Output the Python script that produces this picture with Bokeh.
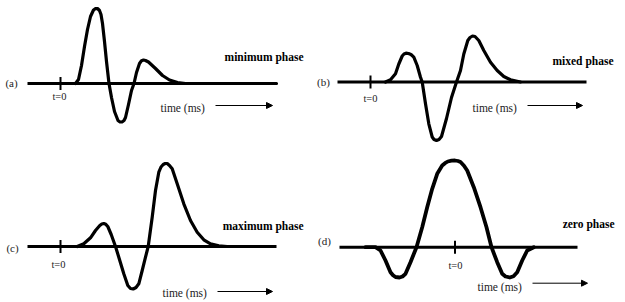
from bokeh.plotting import figure
from bokeh.models import Range1d, Arrow, NormalHead
from bokeh.core.properties import value
from bokeh.embed import file_html
from bokeh.resources import INLINE

# ---------------- data (time after t=0, amplitude above the zero line; arbitrary units) ----------
panel_labels = ["(a)", "(b)", "(c)", "(d)"]
phase_labels = ["minimum phase", "mixed phase", "maximum phase", "zero phase"]
t0_label = "t=0"
time_label = "time (ms)"

min_t = [15, 18, 21, 24, 27, 30, 33, 35, 37, 39, 40.5, 42, 44, 46, 48.5, 51, 54, 57.5, 59.5,
         61.5, 63.5, 65, 68, 71, 73.5, 76, 79, 81, 83, 85, 88, 95, 102, 109, 117, 125, 216]
min_amp = [0, 4, 18, 37, 54, 67, 73.5, 74.8, 75, 73, 69, 60, 42, 22, 0, -14, -28, -37, -38.5,
           -38.5, -37, -34, -21, -7, 0, 11, 20, 22.8, 23.5, 23, 21.5, 15, 8, 3.5, 1, 0, 0]

mix_t = [15, 20, 25, 28.3, 31.7, 33.5, 35.5, 38, 40.5, 43.3, 46.7, 50, 51.7, 55, 58.3, 61.7, 63.5,
         66, 68.5, 71, 76, 81, 86, 90, 93.3, 97.3, 99.5, 102, 104.5, 108.3, 113.3, 120, 126.7,
         133.3, 140, 150]
mix_amp = [0, 2.2, 8.2, 18, 26, 28, 28.8, 28.5, 27.5, 24.8, 16.5, 4.8, 0, -21.8, -41.8, -55,
           -57.5, -58.5, -57.5, -54.5, -36.5, -15.5, 0, 11.5, 28, 41.5, 44.5, 46, 45.5, 41.5, 31.5,
           19.8, 11.5, 5.5, 2.2, 0]

max_t = [16.7, 23.3, 30, 35, 39.3, 41.3, 43.3, 45.3, 47.3, 50.7, 55, 58.3, 63.3, 67.3, 70, 72.7,
         75.5, 78.3, 81.7, 85, 87.7, 91.7, 95, 98.3, 100.5, 102.7, 104.7, 106.7, 109, 111.7, 116.7,
         123.3, 130, 136.7, 143.3, 150, 158.3, 166.7]
max_amp = [0, 2.7, 8.7, 16, 21, 22.5, 23, 22.2, 20, 12, 0, -10.7, -27.3, -39, -42, -42.5, -41,
           -37.3, -24, -10.7, 0, 29.3, 56, 74.3, 79.5, 82, 83, 83, 81, 77.7, 62.7, 42.7, 26, 14.3,
           6.7, 2.7, 0.7, 0]

zero_t = [-89.5, -79.5, -74.5, -69.5, -64.5, -62, -59.5, -55.5, -52.5, -49.5, -44.5, -38.5,
          -32.8, -27.8, -22.8, -17.8, -12.8, -10, -7.2, -3.5, 0, 3, 5.5, 9, 12.2, 18.8, 25.5, 31.5,
          36.5, 42.2, 47.2, 50.5, 54.8, 58.5, 62.2, 67.2, 72.2, 78.8]
zero_amp = [0, 0, -3.3, -13.3, -25, -28, -29.8, -30.3, -29.3, -26.6, -15, 0, 20, 40, 58.4, 73.4,
            81.7, 84, 85.7, 86.6, 86.7, 86.2, 85.2, 81.5, 76.7, 60, 40, 20, 0, -15, -26.6, -29.3,
            -30.3, -29, -25, -13.3, -3.3, 0]

wavelets = [(min_t, min_amp), (mix_t, mix_amp), (max_t, max_amp), (zero_t, zero_amp)]

# ---------------- layout (pixel positions of each panel) ----------------
panels = [
    dict(ox=60, oy=83, x0=27, x1=276, lab=(11, 82), t0=(59, 96), ph=(303, 56),
         tm=(160, 107.5), ar=(215, 272, 105), lw=3.2),
    dict(ox=370, oy=81.5, x0=337, x1=586, lab=(323, 81), t0=(370, 97.5), ph=(613, 60.5),
         tm=(472, 107.5), ar=(527, 582, 105), lw=3.2),
    dict(ox=60, oy=246, x0=27, x1=276, lab=(12, 247), t0=(58, 263.5), ph=(303, 225),
         tm=(162, 292.5), ar=(217, 272, 291), lw=3.2),
    dict(ox=454.5, oy=246.7, x0=339, x1=577, lab=(324, 240.5), t0=(455, 265), ph=(614, 223.5),
         tm=(477, 286), ar=(532, 587, 282.7), lw=3.8),
]

W, H = 625, 302
p = figure(width=W, height=H, x_range=Range1d(0, W), y_range=Range1d(H, 0),
           output_backend="svg", toolbar_location=None, min_border=0)
p.axis.visible = False
p.grid.visible = False
p.outline_line_color = None
p.background_fill_color = "white"
p.border_fill_color = "white"

serif = value("'Liberation Serif', 'Times New Roman', 'DejaVu Serif', serif")

for i, (pan, (ts, amps)) in enumerate(zip(panels, wavelets)):
    ox, oy = pan["ox"], pan["oy"]
    p.line([pan["x0"], pan["x1"]], [oy, oy], line_color="black", line_width=3)
    p.line([ox, ox], [oy - 6.5, oy + 6.5], line_color="black", line_width=2)
    xs = [ox + t for t in ts]
    ys = [oy - a for a in amps]
    p.line(xs, ys, line_color="black", line_width=pan["lw"], line_join="round", line_cap="round")
    p.text([pan["lab"][0]], [pan["lab"][1]], text=[panel_labels[i]], text_font=serif,
           text_font_size="11px", text_align="center", text_baseline="middle", text_color="#222")
    p.text([pan["t0"][0]], [pan["t0"][1]], text=[t0_label], text_font=serif,
           text_font_size="10.5px", text_align="center", text_baseline="middle", text_color="#222")
    p.text([pan["ph"][0]], [pan["ph"][1]], text=[phase_labels[i]], text_font=serif,
           text_font_size="11.5px", text_font_style="bold", text_align="right",
           text_baseline="middle", text_color="black")
    p.text([pan["tm"][0]], [pan["tm"][1]], text=[time_label], text_font=serif,
           text_font_size="11.5px", text_align="left", text_baseline="middle", text_color="#222")
    ax0, ax1, ay = pan["ar"]
    p.add_layout(Arrow(end=NormalHead(size=6, fill_color="black", line_color="black", line_width=1),
                       x_start=ax0, y_start=ay, x_end=ax1, y_end=ay,
                       line_color="black", line_width=1))

open("out.html", "w").write(file_html(p, INLINE))
